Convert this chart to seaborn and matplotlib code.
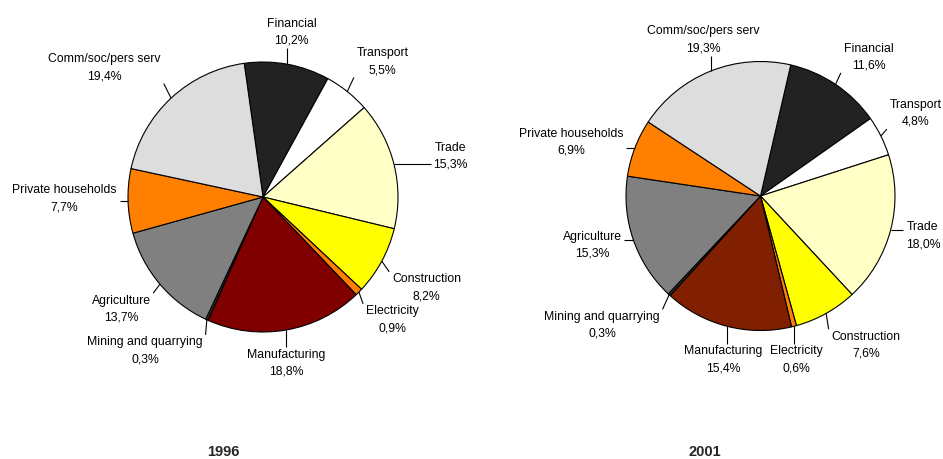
import numpy as np
import matplotlib
matplotlib.use("Agg")
import matplotlib.pyplot as plt
import seaborn as sns

# ---- data ----
sectors = ["Financial", "Transport", "Trade", "Construction", "Electricity",
           "Manufacturing", "Mining and quarrying", "Agriculture",
           "Private households", "Comm/soc/pers serv"]
share_1996 = [10.2, 5.5, 15.3, 8.2, 0.9, 18.8, 0.3, 13.7, 7.7, 19.4]
share_2001 = [11.6, 4.8, 18.0, 7.6, 0.6, 15.4, 0.3, 15.3, 6.9, 19.3]
years = ["1996", "2001"]

colors_1996 = ["#222222", "#FFFFFF", "#FFFFC6", "#FFFF00", "#FF8000",
               "#800000", "#303030", "#808080", "#FF8000", "#DDDDDD"]
colors_2001 = ["#222222", "#FFFFFF", "#FFFFC6", "#FFFF00", "#FF8000",
               "#802000", "#303030", "#808080", "#FF8000", "#DDDDDD"]

# label nudges in pixels (dx right, dy down)
nudges_1996 = [(-3, -2), (9, -6), (24, -1), (0, 12), (3, 6),
               (-9, 3), (-31, 3), (-4, 5), (5, -3), (-17, -8)]
nudges_2001 = [(10, -2), (-3, -9), (0, -2), (15, 5), (-8, 4),
               (10, 4), (-17, 8), (2, -5), (0, 5), (20, -3)]

sns.set_theme(style="white")
plt.rcParams["font.family"] = ["Liberation Sans", "DejaVu Sans"]

W, H, DPI = 943, 459, 100
fig = plt.figure(figsize=(W / DPI, H / DPI), dpi=DPI)
renderer = fig.canvas.get_renderer()


def draw_pie(cx, cy, r, start, values, colors, nudges):
    ax = fig.add_axes([(cx - r) / W, (H - cy - r) / H, 2 * r / W, 2 * r / H])
    wedges, _ = ax.pie(values, colors=sns.color_palette(colors), startangle=start,
                       counterclock=False,
                       wedgeprops=dict(edgecolor="black", linewidth=0.8))
    ax.set_xlim(-1, 1)
    ax.set_ylim(-1, 1)
    ax.set_aspect("equal")
    ax.axis("off")
    for w, name, v, (ndx, ndy) in zip(wedges, sectors, values, nudges):
        th = np.deg2rad((w.theta1 + w.theta2) / 2)
        c, s = np.cos(th), np.sin(th)
        label = f"{name}\n{v:.1f}%".replace(".", ",")
        a = 1.12
        t = ax.text(a * c, a * s, label, ha="center", va="center", fontsize=8.8,
                    linespacing=1.55, color="black", clip_on=False)
        bb = t.get_window_extent(renderer)
        dxp = c * bb.width / 2 + ndx
        dyp = s * bb.height / 2 - ndy
        tx, ty = a * c + dxp / r, a * s + dyp / r
        t.set_position((tx, ty))
        # leader: from edge to nearest point of text box (with padding)
        hw = bb.width / 2 / r + 0.02
        hh = bb.height / 2 / r + 0.01
        ex, ey = c, s
        nx = min(max(ex, tx - hw), tx + hw)
        ny = min(max(ey, ty - hh), ty + hh)
        ax.plot([ex, nx], [ey, ny], color="black", lw=0.8, clip_on=False,
                solid_capstyle="butt")
    return ax


draw_pie(263, 197, 135, 98, share_1996, colors_1996, nudges_1996)
draw_pie(760.5, 196, 134.5, 77, share_2001, colors_2001, nudges_2001)

for x, yr in zip([223, 705], years):
    fig.text(x / W, 1 - 452 / H, yr, ha="center", va="center", fontsize=10.5,
             fontweight="bold")

fig.savefig("out.png", dpi=DPI)
